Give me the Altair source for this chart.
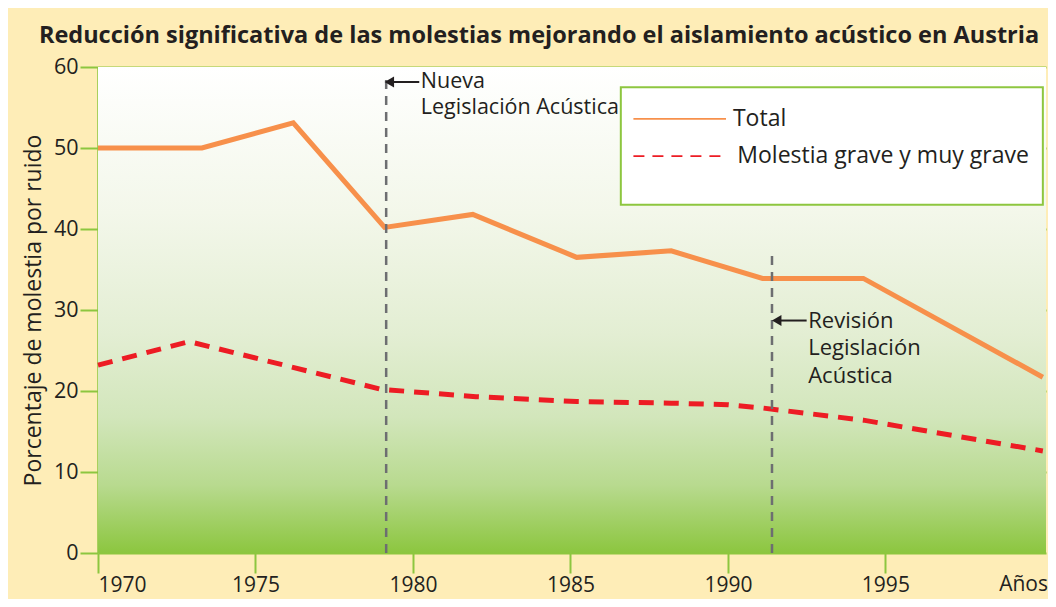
import altair as alt
import pandas as pd

# ---- data ----
tot_year = [1970, 1973.3, 1976.2, 1979.1, 1981.9, 1985.2, 1988.2, 1991.1, 1994.3, 2000.0]
tot_val = [50, 50, 53.1, 40.2, 41.8, 36.5, 37.3, 33.9, 33.9, 21.7]

sev_year = [1970, 1972.9, 1979.0, 1982.0, 1985.2, 1988.2, 1990.0, 1991.1, 1994.3, 2000.0]
sev_val = [23.2, 26.1, 20.2, 19.3, 18.7, 18.5, 18.3, 17.9, 16.4, 12.6]

vline_year = [1979.15, 1991.4]
vline_top = [58.7, 37.1]

x_ticks = [1970, 1975, 1980, 1985, 1990, 1995]
y_ticks = [0, 10, 20, 30, 40, 50, 60]

# annotations
arrow_x1 = [1979.25, 1991.55]
arrow_x2 = [1980.2, 1992.5]
arrow_y = [58.15, 28.7]
ann1_x = [1980.25, 1980.25]
ann1_y = [58.2, 54.9]
ann1_text = ["Nueva", "Legislación Acústica"]
ann2_x = [1992.55, 1992.55, 1992.55]
ann2_y = [28.6, 25.25, 21.9]
ann2_text = ["Revisión", "Legislación", "Acústica"]

# legend box
box_x = [1986.6]
box_x2 = [2000.0]
box_y = [57.5]
box_y2 = [43.0]
leg_x1 = [1987.0, 1987.0]
leg_x2 = [1989.94, 1989.85]
leg_y = [53.6, 49.0]
leg_tx = [1990.16, 1990.3]
leg_text = ["Total", "Molestia grave y muy grave"]

TXT = "#231f20"
GREEN = "#8dc63f"
ORANGE = "#f7904b"
RED = "#ed1c24"
GRAY = "#6d6e71"
FONT = "Open Sans"

W, H = 948, 486

xs = alt.Scale(domain=[1970, 2000.1], nice=False, zero=False)
ys = alt.Scale(domain=[0, 60], nice=False)

df_tot = pd.DataFrame({"year": tot_year, "val": tot_val})
df_sev = pd.DataFrame({"year": sev_year, "val": sev_val})
df_v = pd.DataFrame({"year": vline_year, "top": vline_top, "bot": [0, 0]})
df_arr = pd.DataFrame({"x1": arrow_x1, "x2": arrow_x2, "y": arrow_y})
df_ann1 = pd.DataFrame({"x": ann1_x, "y": ann1_y, "t": ann1_text})
df_ann2 = pd.DataFrame({"x": ann2_x, "y": ann2_y, "t": ann2_text})
df_box = pd.DataFrame({"x": box_x, "x2": box_x2, "y": box_y, "y2": box_y2})
df_leg = pd.DataFrame({"x1": leg_x1, "x2": leg_x2, "y": leg_y, "tx": leg_tx, "t": leg_text})

grad = alt.LinearGradient(
    gradient="linear", x1=0, y1=0, x2=0, y2=1,
    stops=[alt.GradientStop(offset=0, color="#ffffff"),
           alt.GradientStop(offset=0.3, color="#f3f7ea"),
           alt.GradientStop(offset=0.55, color="#e3eed3"),
           alt.GradientStop(offset=0.72, color="#d2e6bb"),
           alt.GradientStop(offset=0.86, color="#b8da8f"),
           alt.GradientStop(offset=1, color="#8cc63f")])

bg = alt.Chart(pd.DataFrame({"a": [0]})).mark_rect(color=grad).encode(
    x=alt.value(0), x2=alt.value(W), y=alt.value(0), y2=alt.value(H))

base_axes = alt.Chart(df_tot).mark_line(color=ORANGE, strokeWidth=5, strokeJoin="miter", strokeCap="butt").encode(
    x=alt.X("year:Q", scale=xs, axis=alt.Axis(values=x_ticks, format="d", title=None, grid=False,
                                               tickSize=20, tickWidth=2, tickColor=GREEN,
                                               domain=False, labelPadding=1, labelFontSize=21,
                                               labelFont=FONT, labelColor=TXT)),
    y=alt.Y("val:Q", scale=ys, axis=alt.Axis(values=y_ticks, title="Porcentaje de molestia por ruido",
                                              grid=True, gridColor=GREEN, gridWidth=2,
                                              tickSize=18, tickWidth=2, tickColor=GREEN,
                                              domain=True, domainColor=GREEN, domainWidth=2.5,
                                              labelPadding=2, labelFontSize=21.5, labelFont=FONT,
                                              labelColor=TXT, titleFont=FONT, titleFontSize=23,
                                              titleFontWeight="normal", titleColor=TXT, titlePadding=8)),
)

sev = alt.Chart(df_sev).mark_line(color=RED, strokeWidth=5, strokeDash=[15, 10], strokeCap="butt").encode(
    x=alt.X("year:Q", scale=xs), y=alt.Y("val:Q", scale=ys))

vlines = alt.Chart(df_v).mark_rule(color=GRAY, strokeWidth=2.5, strokeDash=[9, 7]).encode(
    x=alt.X("year:Q", scale=xs), y=alt.Y("bot:Q", scale=ys), y2="top:Q")

arrows = alt.Chart(df_arr).mark_rule(color=TXT, strokeWidth=2).encode(
    x=alt.X("x1:Q", scale=xs), x2="x2:Q", y=alt.Y("y:Q", scale=ys))
heads = alt.Chart(df_arr).mark_point(shape="triangle-left", filled=True, color=TXT, size=120, opacity=1).encode(
    x=alt.X("x1:Q", scale=xs), y=alt.Y("y:Q", scale=ys))

ann1 = alt.Chart(df_ann1).mark_text(align="left", baseline="middle", font=FONT, fontSize=21.5, color=TXT).encode(
    x=alt.X("x:Q", scale=xs), y=alt.Y("y:Q", scale=ys), text="t:N")
ann2 = alt.Chart(df_ann2).mark_text(align="left", baseline="middle", font=FONT, fontSize=22, color=TXT).encode(
    x=alt.X("x:Q", scale=xs), y=alt.Y("y:Q", scale=ys), text="t:N")

box = alt.Chart(df_box).mark_rect(fill="white", stroke=GREEN, strokeWidth=2).encode(
    x=alt.X("x:Q", scale=xs), x2="x2:Q", y=alt.Y("y:Q", scale=ys), y2="y2:Q")

leg1 = alt.Chart(df_leg.iloc[[0]]).mark_rule(color=ORANGE, strokeWidth=1.8).encode(
    x=alt.X("x1:Q", scale=xs), x2="x2:Q", y=alt.Y("y:Q", scale=ys))
leg2 = alt.Chart(df_leg.iloc[[1]]).mark_rule(color=RED, strokeWidth=1.8, strokeDash=[11, 8]).encode(
    x=alt.X("x1:Q", scale=xs), x2="x2:Q", y=alt.Y("y:Q", scale=ys))
legt = alt.Chart(df_leg).mark_text(align="left", baseline="middle", font=FONT, fontSize=23, color=TXT).encode(
    x=alt.X("tx:Q", scale=xs), y=alt.Y("y:Q", scale=ys), text="t:N")

title = alt.Chart(pd.DataFrame({"t": ["Reducción significativa de las molestias mejorando el aislamiento acústico en Austria"]})).mark_text(
    align="center", baseline="middle", font=FONT, fontSize=23.5, fontWeight="bold", color=TXT).encode(
    x=alt.value(441), y=alt.value(-31), text="t:N")

anos = alt.Chart(pd.DataFrame({"t": ["Años"]})).mark_text(
    align="right", baseline="top", font=FONT, fontSize=21, color=TXT).encode(
    x=alt.value(W + 2), y=alt.value(H + 21), text="t:N")

chart = alt.layer(bg, base_axes, sev, vlines, arrows, heads, ann1, ann2, box, leg1, leg2, legt, title, anos).properties(
    width=W, height=H,
    background="#feedb7",
    padding={"left": 90, "top": 59, "right": 2, "bottom": 46},
    autosize=alt.AutoSizeParams(type="none"),
).configure_view(strokeWidth=0)

chart.save("out.html", embed_options={"renderer": "svg", "actions": False})
